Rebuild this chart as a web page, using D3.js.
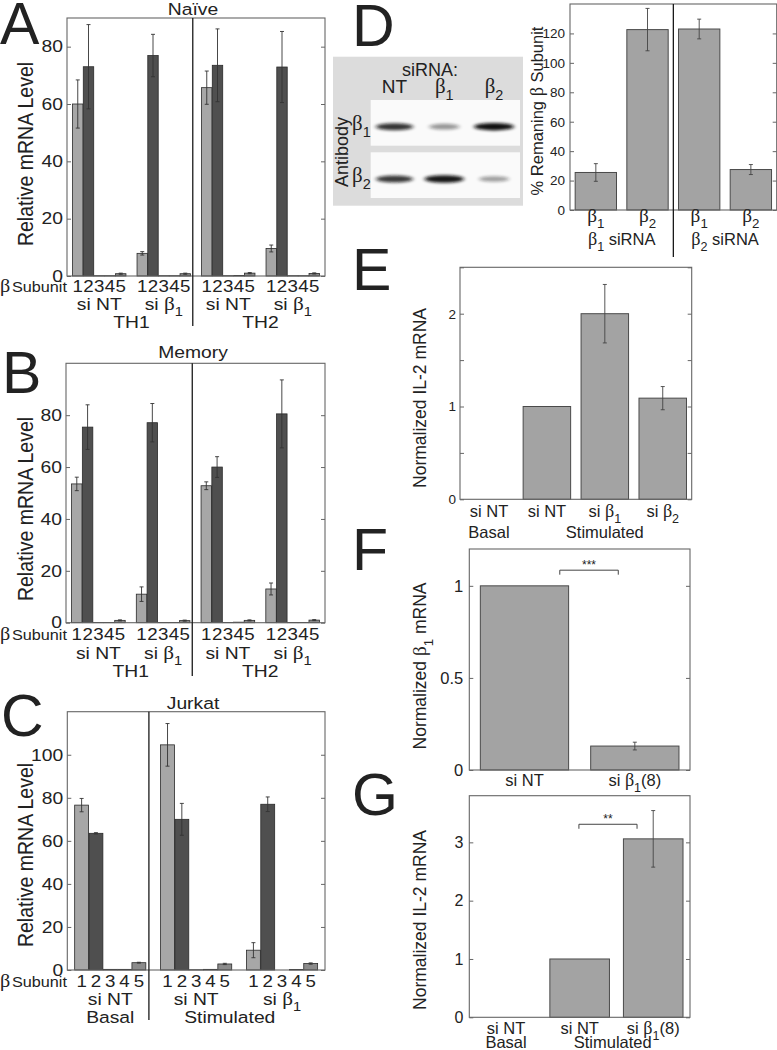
<!DOCTYPE html>
<html><head><meta charset="utf-8">
<script src="https://cdn.jsdelivr.net/npm/d3@7"></script>
<style>
body{margin:0;background:#fff}
text{font-family:"Liberation Sans",Arial,Helvetica,sans-serif;fill:#222}
</style>
</head><body>
<svg id="fig" width="777" height="1050"></svg>
<script>
// ---------------- DATA ----------------
const subunitLabels = ["1","2","3","4","5"];
const subunitColors = ["#a7a7a7","#4f4f4f","#666666","#777777","#8b8b8b"];

// Panel A: Naive (groups: TH1 si NT, TH1 si b1, TH2 si NT, TH2 si b1)
const naiveGroups = ["si NT","si β_1","si NT","si β_1"];
const naiveCells = ["TH1","TH2"];
const naiveMean = [[60.0,73.0,0.1,0.1,0.8],[7.9,76.9,0.1,0.1,0.8],[65.7,73.5,0.1,0.2,1.0],[9.6,72.9,0.1,0.1,0.9]];
const naiveErr  = [[8.4,14.7,0,0,0.2],[0.6,7.4,0,0,0.2],[5.8,12.7,0,0,0.2],[1.2,12.4,0,0,0.2]];
const naiveTicks = [0,20,40,60,80];

// Panel B: Memory
const memoryGroups = ["si NT","si β_1","si NT","si β_1"];
const memoryCells = ["TH1","TH2"];
const memoryMean = [[53.5,75.4,0.1,0.1,0.9],[11.0,77.1,0.1,0.1,0.8],[52.8,60.0,0.1,0.2,0.9],[13.0,80.5,0.1,0.1,1.0]];
const memoryErr  = [[2.6,8.6,0,0,0.2],[2.8,7.4,0,0,0.2],[1.5,4.0,0,0,0.2],[2.3,13.1,0,0,0.2]];
const memoryTicks = [0,20,40,60,80];

// Panel C: Jurkat (Basal si NT, Stimulated si NT, Stimulated si b1)
const jurkatGroups = ["si NT","si NT","si β_1"];
const jurkatConditions = ["Basal","Stimulated"];
const jurkatMean = [[76.6,63.5,0.3,0.3,3.4],[104.6,70.0,0.1,0.3,2.8],[9.2,77.0,0.0,0.2,3.0]];
const jurkatErr  = [[3.1,0.3,0,0,0.2],[9.9,7.4,0,0,0.3],[3.5,3.4,0,0,0.3]];
const jurkatTicks = [0,20,40,60,80,100];

// Panel D: western blot + knockdown quantification
const blotLanes = ["NT","β_1","β_2"];
const blotAntibodies = ["β_1","β_2"];
const bandIntensity = [[0.78,0.22,0.98],[0.75,0.95,0.18]];
const kdLabels = ["β_1","β_2","β_1","β_2"];
const kdGroups = ["β_1 siRNA","β_2 siRNA"];
const kdMean = [25.5,122.6,123.0,27.5];
const kdErr  = [6.0,14.4,6.7,3.4];
const kdTicks = [0,20,40,60,80,100,120];

// Panel E: IL-2 mRNA
const il2Labels = ["si NT","si NT","si β_1","si β_2"];
const il2Mean = [0,1.0,2.0,1.09];
const il2Err  = [0,0,0.315,0.125];
const il2Ticks = [0,0.5,1,1.5,2,2.5];
const il2TickLabels = [0,1,2];

// Panel F: beta1 mRNA
const b1Labels = ["si NT","si β_1(8)"];
const b1Mean = [1.0,0.13];
const b1Err  = [0,0.021];
const b1Ticks = [0,0.5,1];
const b1Sig = "***";

// Panel G: IL-2 mRNA with si b1(8)
const g2Labels = ["si NT","si NT","si β_1(8)"];
const g2Mean = [0,1.0,3.06];
const g2Err  = [0,0,0.485];
const g2Ticks = [0,1,2,3];
const g2Sig = "**";

// ---------------- HELPERS ----------------
const svg = d3.select("#fig");
const SX = 1.17; // horizontal stretch of left-column lettering
const SERIF = '"Liberation Serif","DejaVu Serif",serif';

function rich(sel, str, fs){
  const re = /(β)|_(\w)/g;
  let last = 0, m, shifted = false;
  const add = (txt, o) => {
    const t = sel.append("tspan").text(txt);
    if(o.serif) t.attr("font-family",SERIF).attr("font-size",fs*1.1);
    if(o.sub){ t.attr("font-size",fs*0.76).attr("dy",fs*0.38); shifted = true; }
    else if(shifted){ t.attr("dy",-fs*0.38); shifted = false; }
  };
  while((m = re.exec(str))){
    if(m.index>last) add(str.slice(last,m.index),{});
    if(m[1]) add("β",{serif:true}); else add(m[2],{sub:true});
    last = re.lastIndex;
  }
  if(last<str.length) add(str.slice(last),{});
  return sel;
}
function label(x,y,str,fs,sx=1,anchor="middle"){
  const t = svg.append("text").attr("transform",`translate(${x},${y}) scale(${sx},1)`)
    .attr("font-size",fs).attr("text-anchor",anchor);
  rich(t,str,fs);
  return t;
}
function vlabel(cx,cy,str,fs,sx=1){
  const t = svg.append("text").attr("transform",`translate(${cx},${cy}) scale(${sx},1) rotate(-90)`)
    .attr("font-size",fs).attr("text-anchor","middle").attr("dy","0.35em");
  rich(t,str,fs);
  return t;
}
function bigLetter(x,y,s){
  svg.append("text").attr("x",x).attr("y",y).attr("font-size",59).attr("fill","#111").text(s);
}

function makePanel(box,xDomain,yDomain,ticks,labelTicks,fs,pad,sx){
  const x = d3.scaleLinear().domain(xDomain).range([box.l,box.r]);
  const y = d3.scaleLinear().domain(yDomain).range([box.b,box.t]);
  const g = svg.append("g");
  const bars = g.append("g");
  g.append("rect").attr("x",box.l).attr("y",box.t).attr("width",box.r-box.l).attr("height",box.b-box.t)
    .attr("fill","none").attr("stroke","#666").attr("stroke-width",1.1);
  const la = g.append("g").attr("transform",`translate(${box.l},0)`)
    .call(d3.axisLeft(y).tickValues(ticks).tickSize(-4).tickPadding(pad)
      .tickFormat(d=> labelTicks.includes(d) ? String(d) : ""));
  const ra = g.append("g").attr("transform",`translate(${box.r},0)`)
    .call(d3.axisRight(y).tickValues(ticks).tickSize(-4).tickFormat(""));
  [la,ra].forEach(a=>{
    a.select(".domain").remove();
    a.selectAll(".tick line").attr("stroke","#666");
    a.selectAll(".tick text").attr("font-size",fs).attr("fill","#222")
      .attr("font-family",'"Liberation Sans",Arial,sans-serif')
      .attr("x",-pad/sx).attr("transform",`scale(${sx},1)`);
  });
  return {g,bars,x,y};
}

function errBars(p, data, cap, color){
  const eb = p.bars.append("g");
  data.filter(d=>d.e>0).forEach(d=>{
    const cx = p.x(d.pos);
    eb.append("line").attr("x1",cx).attr("x2",cx).attr("y1",p.y(d.v-d.e)).attr("y2",p.y(d.v+d.e))
      .attr("stroke",color).attr("stroke-width",0.9);
    [d.v-d.e,d.v+d.e].forEach(v=>eb.append("line").attr("x1",cx-cap).attr("x2",cx+cap)
      .attr("y1",p.y(v)).attr("y2",p.y(v)).attr("stroke",color).attr("stroke-width",0.9));
  });
}

function groupedPanel(box,xMax,yMax,ticks,fs,means,errs){
  const p = makePanel(box,[0,xMax],[0,yMax],ticks,ticks,fs,4,SX);
  const w = 0.97;
  const data = [];
  means.forEach((row,g)=>row.forEach((v,b)=>data.push({pos:1+g*6+b,v,e:errs[g][b],b})));
  p.bars.selectAll("rect").data(data).join("rect")
    .attr("x",d=>p.x(d.pos-w/2)).attr("width",p.x(w)-p.x(0))
    .attr("y",d=>p.y(d.v)).attr("height",d=>p.y(0)-p.y(d.v))
    .attr("fill",d=>subunitColors[d.b]).attr("stroke","#2a2a2a").attr("stroke-width",0.8);
  errBars(p,data,2,"#333");
  return p;
}

function simplePanel(box,n,yMax,ticks,labelTicks,fs,pad,means,errs,w){
  const p = makePanel(box,[0.5,n+0.5],[0,yMax],ticks,labelTicks,fs,pad,1);
  const data = means.map((v,i)=>({pos:i+1,v,e:errs[i]}));
  p.bars.selectAll("rect").data(data.filter(d=>d.v>0)).join("rect")
    .attr("x",d=>p.x(d.pos-w/2)).attr("width",p.x(w)-p.x(0))
    .attr("y",d=>p.y(d.v)).attr("height",d=>p.y(0)-p.y(d.v))
    .attr("fill","#a3a3a3").attr("stroke","#4a4a4a").attr("stroke-width",1);
  errBars(p,data,2,"#444");
  return p;
}

function divider(p,pos,y1,y2){
  svg.append("line").attr("x1",p.x(pos)).attr("x2",p.x(pos)).attr("y1",y1).attr("y2",y2)
    .attr("stroke","#1a1a1a").attr("stroke-width",1.3);
}

function subunitRow(p,nGroups,yBase,fs){
  for(let g=0; g<nGroups; g++) subunitLabels.forEach((s,b)=>label(p.x(1+g*6+b),yBase,s,fs,SX));
  const t = svg.append("text").attr("transform",`translate(0,${yBase}) scale(1.12,1)`).attr("text-anchor","start");
  t.append("tspan").attr("font-size",18).attr("font-family",SERIF).text("β");
  t.append("tspan").attr("font-size",14.5).attr("dx",1.5).text("Subunit");
}

function bracket(p,a,b,yv,s){
  const y0 = p.y(yv);
  svg.append("path").attr("d",`M${p.x(a)},${y0+4.5}V${y0}H${p.x(b)}V${y0+4.5}`)
    .attr("fill","none").attr("stroke","#444").attr("stroke-width",1);
  svg.append("text").attr("x",(p.x(a)+p.x(b))/2).attr("y",y0-1).attr("font-size",12)
    .attr("text-anchor","middle").text(s);
}

// ---------------- PANEL A ----------------
bigLetter(0,44,"A");
const pA = groupedPanel({l:67,r:325,t:18,b:276},24,90,naiveTicks,16.5,naiveMean,naiveErr);
label(193,15,"Naïve",16.5,SX);
divider(pA,11.7,18,326);
vlabel(25,154,"Relative mRNA Level",19.5,SX);
subunitRow(pA,4,291.5,16);
naiveGroups.forEach((s,g)=>label(pA.x(3+g*6),310,s,16.5,SX));
naiveCells.forEach((s,i)=>label(pA.x(6+i*12),328,s,16.5,SX));

// ---------------- PANEL B ----------------
bigLetter(2,393,"B");
const pB = groupedPanel({l:66,r:325,t:363.3,b:622.7},24,100,memoryTicks,16.5,memoryMean,memoryErr);
label(193,358,"Memory",16.5,SX);
divider(pB,11.7,363.3,676);
vlabel(25,509,"Relative mRNA Level",19.5,SX);
subunitRow(pB,4,640,16);
memoryGroups.forEach((s,g)=>label(pB.x(3+g*6),659,s,16.5,SX));
memoryCells.forEach((s,i)=>label(pB.x(6+i*12),677,s,16.5,SX));

// ---------------- PANEL C ----------------
bigLetter(1,736,"C");
const pC = groupedPanel({l:67.3,r:325,t:711.7,b:970},18,120,jurkatTicks,16.5,jurkatMean,jurkatErr);
label(193,709,"Jurkat",16.5,SX);
divider(pC,5.7,711.7,1020);
vlabel(25,855,"Relative mRNA Level",19.5,SX);
subunitRow(pC,3,987,16);
jurkatGroups.forEach((s,g)=>label(pC.x(3+g*6),1005,s,16.5,SX));
label(pC.x(3),1023,jurkatConditions[0],16.5,SX);
label(pC.x(11.35),1023,jurkatConditions[1],16.5,SX);

// ---------------- PANEL D ----------------
bigLetter(352,46,"D");
svg.append("rect").attr("x",333).attr("y",56.7).attr("width",190).attr("height",149).attr("fill","#dcdcdc");
const laneX = d3.scalePoint().domain(d3.range(blotLanes.length)).range([394.5,494]);
const rowY = d3.scalePoint().domain(d3.range(blotAntibodies.length)).range([126.7,179]);
const defs = svg.append("defs");
defs.append("filter").attr("id","blur").attr("x","-50%").attr("y","-100%").attr("width","200%").attr("height","300%")
  .append("feGaussianBlur").attr("stdDeviation","2.2 1.4");
blotAntibodies.forEach((ab,r)=>{
  svg.append("rect").attr("x",370.7).attr("y",rowY(r)-26.7).attr("width",149.3).attr("height",45.7).attr("fill","#fafafa");
  label(352,rowY(r)+3,ab,19,1,"start");
  bandIntensity[r].forEach((v,l)=>{
    svg.append("ellipse").attr("cx",laneX(l)).attr("cy",rowY(r)).attr("rx",14+6*v).attr("ry",2.6+1.2*v)
      .attr("fill","#111").attr("opacity",0.25+0.75*v).attr("filter","url(#blur)");
  });
});
label(430,76,"siRNA:",18);
blotLanes.forEach((s,l)=>label(laneX(l),93,s,19));
vlabel(342,152,"Antibody",18);

const pD = simplePanel({l:570,r:776.7,t:4,b:210},4,140,kdTicks,kdTicks,13.5,5,kdMean,kdErr,0.8);
divider(pD,2.5,4,257);
kdLabels.forEach((s,i)=>label(pD.x(i+1),221.5,s,17.5));
kdGroups.forEach((s,i)=>label(pD.x(1.5+i*2),245,s,16.5));
vlabel(537,111,"% Remaning β Subunit",16.5);

// ---------------- PANEL E ----------------
bigLetter(352,290,"E");
const pE = simplePanel({l:460,r:691.7,t:267.3,b:499.3},4,2.5,il2Ticks,il2TickLabels,13.5,4,il2Mean,il2Err,0.82);
il2Labels.forEach((s,i)=>label(pE.x(i+1),516.5,s,16.5));
label(pE.x(1),538,"Basal",16.5);
label(pE.x(3),538,"Stimulated",16.5);
vlabel(420,398,"Normalized IL-2 mRNA",17.5);

// ---------------- PANEL F ----------------
bigLetter(352,570,"F");
const pF = simplePanel({l:469.3,r:690,t:549,b:770},2,1.2,b1Ticks,b1Ticks,16.5,6,b1Mean,b1Err,0.8);
b1Labels.forEach((s,i)=>label(pF.x(i+1),786,s,16.5));
bracket(pF,1.32,1.85,1.085,b1Sig);
vlabel(420,666,"Normalized β_1 mRNA",17.5);

// ---------------- PANEL G ----------------
bigLetter(352,815,"G");
const pG = simplePanel({l:469.3,r:690,t:795.7,b:1017.3},3,3.8,g2Ticks,g2Ticks,16,6,g2Mean,g2Err,0.81);
g2Labels.forEach((s,i)=>label(pG.x(i+1),1034,s,16.5));
label(pG.x(1),1048,"Basal",16.5);
label(pG.x(2.45),1048,"Stimulated",16.5);
bracket(pG,1.99,2.78,3.31,g2Sig);
vlabel(420,920,"Normalized IL-2 mRNA",17.5);
</script>
</body></html>
